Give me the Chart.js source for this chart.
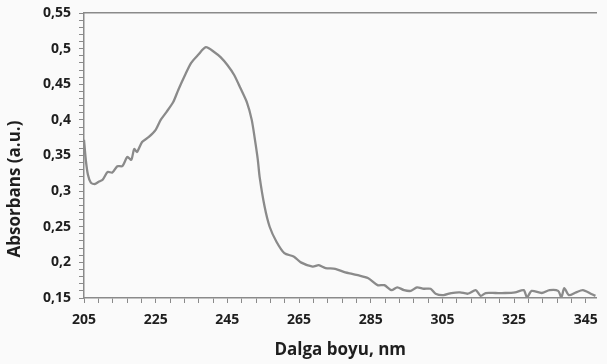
<!DOCTYPE html>
<html>
<head>
<meta charset="utf-8">
<script src="https://cdn.jsdelivr.net/npm/chart.js@4/dist/chart.umd.min.js"></script>
<style>
  html, body { margin: 0; padding: 0; background: #fafafa; }
  canvas { display: block; }
</style>
</head>
<body>
<canvas id="chart" width="607" height="364"></canvas>
<script>
// UV-Vis spektrumu (okunan değerler)
const wavelength = [
  205.0, 205.5, 206.1, 206.9, 208.0, 209.1, 210.2, 211.6, 212.9, 214.3,
  215.7, 217.1, 218.2, 219.0, 219.8, 221.2, 223.1, 225.0, 226.4, 228.0,
  229.9, 231.3, 233.2, 234.9, 236.8, 239.0, 241.4, 243.1, 245.0, 246.9,
  248.6, 250.5, 251.8, 252.7, 253.5, 254.0, 255.4, 256.8, 258.7, 260.9,
  263.6, 265.5, 268.8, 270.5, 272.4, 275.1, 277.9, 279.8, 281.4, 284.2,
  286.9, 288.8, 290.8, 292.4, 294.3, 296.2, 297.9, 299.8, 301.7, 303.1,
  305.3, 307.5, 309.9, 312.1, 314.3, 315.7, 317.1, 319.8, 322.5, 325.3,
  327.7, 328.6, 329.9, 332.7, 334.9, 337.3, 338.2, 339.0, 340.3, 342.3,
  344.2, 346.4, 347.7
]
const absorbance = [
  0.372, 0.344, 0.323, 0.312, 0.310, 0.313, 0.316, 0.327, 0.326, 0.335,
  0.335, 0.348, 0.344, 0.359, 0.355, 0.369, 0.376, 0.386, 0.400, 0.411,
  0.425, 0.442, 0.463, 0.480, 0.491, 0.502, 0.495, 0.488, 0.477, 0.463,
  0.445, 0.424, 0.400, 0.372, 0.344, 0.320, 0.278, 0.250, 0.229, 0.213,
  0.208, 0.200, 0.194, 0.196, 0.192, 0.191, 0.186, 0.184, 0.182, 0.178,
  0.168, 0.168, 0.161, 0.165, 0.161, 0.160, 0.165, 0.163, 0.163, 0.156,
  0.154, 0.157, 0.158, 0.156, 0.161, 0.153, 0.157, 0.157, 0.157, 0.158,
  0.161, 0.151, 0.160, 0.157, 0.161, 0.160, 0.151, 0.164, 0.154, 0.158,
  0.161, 0.156, 0.153
]

const xTickValues = [205, 225, 245, 265, 285, 305, 325, 345]
const xTickLabels = ['205', '225', '245', '265', '285', '305', '325', '345']
const yTickValues = [0.15, 0.2, 0.25, 0.3, 0.35, 0.4, 0.45, 0.5, 0.55]
const yTickLabels = ['0,15', '0,2', '0,25', '0,3', '0,35', '0,4', '0,45', '0,5', '0,55']

const AXIS = '#8a8a8a'
const TEXT = '#1e1e1e'
const FONT = '"Open Sans", "DejaVu Sans", sans-serif'

function labelFor(values, labels, v) {
  const i = values.findIndex(t => Math.abs(t - v) < 1e-6)
  return i >= 0 ? labels[i] : ''
}

// y ekseni başlığı biraz aşağıda duruyor, elle çiziyoruz
const yTitle = {
  id: 'yTitle',
  afterDraw(chart) {
    const ctx = chart.ctx
    ctx.save()
    ctx.translate(15, 189)
    ctx.rotate(-Math.PI / 2)
    ctx.font = 'bold 17px ' + FONT
    ctx.fillStyle = TEXT
    ctx.textAlign = 'center'
    ctx.textBaseline = 'middle'
    ctx.fillText('Absorbans (a.u.)', 0, 0)
    ctx.restore()
  }
}

new Chart(document.getElementById('chart'), {
  type: 'line',
  data: {
    datasets: [{
      data: wavelength.map((w, i) => ({ x: w, y: absorbance[i] })),
      borderColor: '#8a8a8a',
      borderWidth: 2.3,
      pointRadius: 0,
      tension: 0.25,
      fill: false,
    }],
  },
  plugins: [yTitle],
  options: {
    responsive: false,
    devicePixelRatio: 1,
    animation: false,
    layout: { padding: { top: 13, right: 0, left: 0, bottom: 0 } },
    plugins: { legend: { display: false }, tooltip: { enabled: false } },
    scales: {
      x: {
        type: 'linear',
        min: 205,
        max: 348,
        afterBuildTicks: s => {
          const t = []
          for (let v = 205; v <= 345; v += 4) t.push({ value: v })
          s.ticks = t
        },
        afterFit: s => { s.height = 66 },
        ticks: {
          autoSkip: false,
          maxRotation: 0,
          padding: 9,
          color: TEXT,
          font: { family: FONT, size: 14, weight: 'bold' },
          callback: v => labelFor(xTickValues, xTickLabels, v),
        },
        grid: { drawOnChartArea: false, tickLength: 5, color: AXIS },
        border: { color: AXIS, width: 1.5 },
        title: {
          display: true,
          text: 'Dalga boyu, nm',
          color: TEXT,
          font: { family: FONT, size: 17, weight: 'bold' },
          padding: { top: 6 },
        },
      },
      xTop: {
        type: 'linear',
        position: 'top',
        min: 205,
        max: 348,
        afterFit: s => { s.height = 0 },
        ticks: { display: false },
        grid: { drawOnChartArea: false, drawTicks: false },
        border: { color: AXIS, width: 1.5 },
      },
      y: {
        min: 0.15,
        max: 0.55,
        afterBuildTicks: s => {
          const t = []
          for (let k = 15; k <= 55; k++) t.push({ value: k / 100 })
          s.ticks = t
        },
        afterFit: s => {
          s.width = 84
          s.paddingTop = 0
          s.paddingBottom = 0
        },
        ticks: {
          autoSkip: false,
          padding: 8,
          color: TEXT,
          font: { family: FONT, size: 14, weight: 'bold' },
          callback: v => labelFor(yTickValues, yTickLabels, v),
        },
        grid: { drawOnChartArea: false, tickLength: 5, color: AXIS },
        border: { color: AXIS, width: 1.5 },
      },
    },
  },
})
</script>
</body>
</html>
